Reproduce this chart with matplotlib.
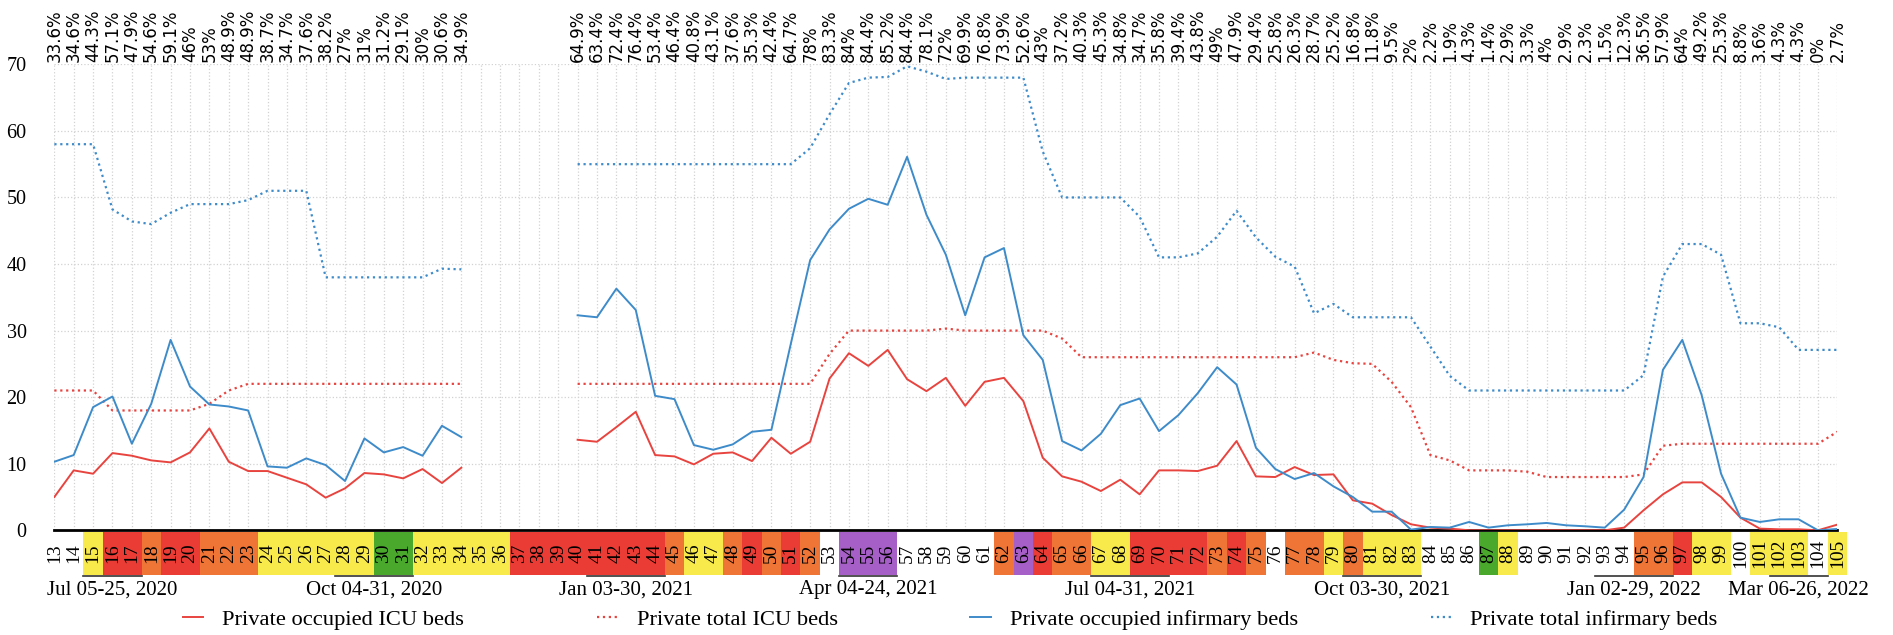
import numpy as np
import matplotlib.pyplot as plt
from matplotlib.patches import Rectangle
from matplotlib.transforms import blended_transform_factory

nan = np.nan
weeks = list(range(13, 106))

# private occupied ICU beds
occ_icu = [5.0, 9.0, 8.5, 11.6, 11.2, 10.5, 10.2, 11.7, 15.3, 10.3,
           8.9, 8.9, 7.9, 6.9, 4.9, 6.3, 8.6, 8.4, 7.8, 9.2,
           7.1, 9.4, nan, nan, nan, nan, nan,
           13.6, 13.3, 15.5, 17.8, 11.3, 11.1, 9.9, 11.5, 11.7, 10.4,
           13.9, 11.5, 13.3, 22.8, 26.6, 24.7, 27.1, 22.7, 20.9, 22.9,
           18.7, 22.3, 22.9, 19.4, 10.9, 8.1, 7.3, 5.9, 7.6, 5.4,
           9.0, 9.0, 8.9, 9.7, 13.4, 8.1, 8.0, 9.5, 8.3, 8.4,
           4.5, 4.0, 2.3, 0.9, 0.4, 0.25, 0, 0, 0, 0,
           0, 0, 0, 0, 0.4, 3.0, 5.4, 7.2, 7.2, 5.0,
           1.9, 0.25, 0.15, 0.15, 0, 0.85]

# private total ICU beds
tot_icu = [21, 21, 21, 18, 18, 18, 18, 18, 19, 21,
           22, 22, 22, 22, 22, 22, 22, 22, 22, 22,
           22, 22, nan, nan, nan, nan, nan,
           22, 22, 22, 22, 22, 22, 22, 22, 22, 22,
           22, 22, 22, 26.5, 30, 30, 30, 30, 30, 30.3,
           30, 30, 30, 30, 30, 28.8, 26, 26, 26, 26,
           26, 26, 26, 26, 26, 26, 26, 26, 26.7, 25.6,
           25.1, 25, 22.3, 18.5, 11.3, 10.5, 9, 9, 9, 8.8,
           8, 8, 8, 8, 8, 8.4, 12.7, 13, 13, 13,
           13, 13, 13, 13, 13, 14.8]

# private occupied infirmary beds
occ_inf = [10.3, 11.3, 18.5, 20.1, 13.0, 19.0, 28.6, 21.6, 18.9, 18.6,
           18.0, 9.6, 9.4, 10.8, 9.8, 7.4, 13.8, 11.7, 12.5, 11.2,
           15.7, 14.0, nan, nan, nan, nan, nan,
           32.3, 32.0, 36.3, 33.1, 20.2, 19.7, 12.8, 12.1, 12.9, 14.8,
           15.1, 28.0, 40.6, 45.2, 48.3, 49.8, 48.9, 56.1, 47.4, 41.4,
           32.3, 41.0, 42.4, 29.3, 25.6, 13.4, 12.0, 14.5, 18.8, 19.8,
           14.9, 17.3, 20.6, 24.5, 21.9, 12.4, 9.2, 7.7, 8.6, 6.6,
           5.0, 2.8, 2.8, 0.1, 0.5, 0.4, 1.25, 0.4, 0.75, 0.9,
           1.1, 0.75, 0.6, 0.4, 3.1, 8.0, 24.1, 28.6, 20.3, 8.5,
           1.9, 1.25, 1.65, 1.65, 0, 0.2]

# private total infirmary beds
tot_inf = [58, 58, 58, 48.2, 46.4, 46, 47.7, 49, 49, 49,
           49.6, 51, 51, 51, 38, 38, 38, 38, 38, 38,
           39.3, 39.2, nan, nan, nan, nan, nan,
           55, 55, 55, 55, 55, 55, 55, 55, 55, 55,
           55, 55, 57.4, 62.5, 67.2, 68, 68.1, 69.7, 68.9, 67.8,
           68, 68, 68, 68, 56.9, 50, 50, 50, 50, 47.1,
           41, 41, 41.6, 44.1, 48, 44, 41.1, 39.6, 32.6, 34,
           32, 32, 32, 32, 27.6, 23.2, 21, 21, 21, 21,
           21, 21, 21, 21, 21, 23.3, 38.1, 43, 43, 41.4,
           31.1, 31.1, 30.5, 27.1, 27.1, 27.1]

pct = [33.6, 34.6, 44.3, 57.1, 47.9, 54.6, 59.1, 46, 53, 48.9,
       48.9, 38.7, 34.7, 37.6, 38.2, 27, 31, 31.2, 29.1, 30,
       30.6, 34.9, nan, nan, nan, nan, nan,
       64.9, 63.4, 72.4, 76.4, 53.4, 46.4, 40.8, 43.1, 37.6, 35.3,
       42.4, 64.7, 78, 83.3, 84, 84.4, 85.2, 84.4, 78.1, 72,
       69.9, 76.8, 73.9, 52.6, 43, 37.2, 40.3, 45.3, 34.8, 34.7,
       35.8, 39.4, 43.8, 49, 47.9, 29.4, 25.8, 26.3, 28.7, 25.2,
       16.8, 11.8, 9.5, 2, 2.2, 1.9, 4.3, 1.4, 2.9, 3.3,
       4, 2.9, 2.3, 1.5, 12.3, 36.5, 57.9, 64, 49.2, 25.3,
       8.8, 3.6, 4.3, 4.3, 0, 2.7]

# alert level per week: w=none y=yellow o=orange r=red g=green p=purple
levels = ("wwyrrorroo" "oyyyyyyggy" "yyyyrrrrrr" "rroyyororo" "wpppwwwwwo"
          "prooyyrrrr" "orowooyoyy" "ywwwgywwww" "wwooryywyy" "ywy")
level_colors = {'y': '#f9ea4b', 'o': '#ee7536', 'r': '#eb3b35',
                'g': '#4aa92c', 'p': '#a55fc6'}

months = ['Jul 05-25, 2020', 'Oct 04-31, 2020', 'Jan 03-30, 2021', 'Apr 04-24, 2021',
          'Jul 04-31, 2021', 'Oct 03-30, 2021', 'Jan 02-29, 2022', 'Mar 06-26, 2022']
month_first = [15, 28, 41, 54, 67, 80, 93, 102]
month_last = [17, 31, 44, 56, 70, 83, 96, 104]

red = '#e8443f'
blue = '#3e8bca'
serif = 'Liberation Serif'

fig = plt.figure(figsize=(18.93, 6.35), dpi=100)
ax = fig.add_axes([0.0287, 0.1649, 0.9419, 0.7338])

ax.plot(weeks, occ_icu, color=red, lw=1.4, label='Private occupied ICU beds')
ax.plot(weeks, tot_icu, color=red, lw=1.6, ls=':', label='Private total ICU beds')
ax.plot(weeks, occ_inf, color=blue, lw=1.4, label='Private occupied infirmary beds')
ax.plot(weeks, tot_inf, color=blue, lw=1.6, ls=':', label='Private total infirmary beds')

ax.set_xlim(13, 105)
ax.set_ylim(0, 70)
ax.set_xticks(weeks)
ax.set_yticks(range(0, 71, 10))
ax.set_xticklabels([])
ax.tick_params(length=0, pad=20)
for lab in ax.get_yticklabels():
    lab.set_fontfamily(serif)
    lab.set_fontsize(14.5)
ax.grid(True, color='#d2d2d2', ls=':', lw=0.9)
ax.set_axisbelow(True)
for s in ['top', 'right', 'left']:
    ax.spines[s].set_visible(False)
ax.spines['bottom'].set_linewidth(2)
ax.spines['bottom'].set_zorder(1)

trans = blended_transform_factory(ax.transData, ax.transAxes)

# colored week cells under the axis
for w, lv in zip(weeks, levels):
    if lv != 'w':
        ax.add_patch(Rectangle((w - 0.5, -0.0965), 1, 0.093, transform=trans,
                               facecolor=level_colors[lv], edgecolor='none',
                               clip_on=False, zorder=0))
    ax.text(w, -0.05, str(w), transform=trans, rotation=90, ha='center', va='center',
            fontsize=14, family=serif, clip_on=False)

# month ranges
for name, a, b in zip(months, month_first, month_last):
    ax.plot([a - 0.5, b + 0.5], [-0.098, -0.098], transform=trans, color='#333333',
            lw=1.2, clip_on=False)
    ax.text((a + b) / 2, -0.128, name, transform=trans, ha='center', va='center',
            fontsize=15, family=serif)

# percentages above the plot
for w, p in zip(weeks, pct):
    if not np.isnan(p):
        ax.text(w, 1.005, f'{p:g}%', transform=trans, rotation=90, ha='center',
                va='bottom', fontsize=12, family='DejaVu Sans')

fig.legend(loc='center', bbox_to_anchor=(0.502, 0.024), ncol=4, frameon=False,
           handlelength=0.9, handletextpad=0.85, columnspacing=5.9,
           prop={'family': serif, 'size': 16.2})

fig.savefig('out.png', dpi=100)
